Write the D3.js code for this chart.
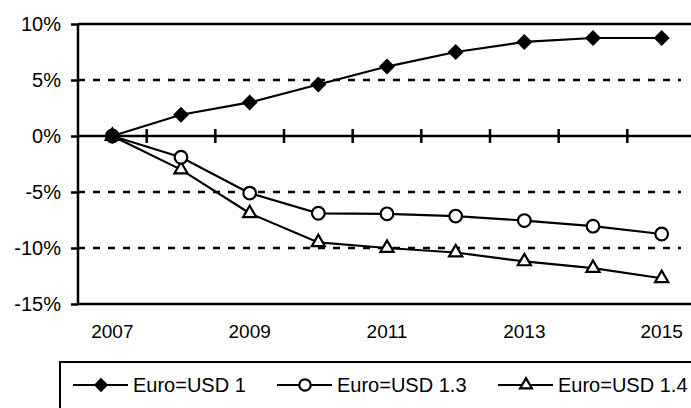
<!DOCTYPE html>
<html>
<head>
<meta charset="utf-8">
<script src="https://cdn.jsdelivr.net/npm/d3@7"></script>
<style>
  body { margin: 0; background: #fff; }
  svg { display: block; font-family: Arial, "Liberation Sans", sans-serif; }
</style>
</head>
<body>
<div id="chart-container"></div>
<script>
// data (percent change vs 2007)
const years = [2007, 2008, 2009, 2010, 2011, 2012, 2013, 2014, 2015];
const usd1 = [0, 1.9, 3.0, 4.6, 6.2, 7.5, 8.4, 8.75, 8.75];
const usd13 = [0, -1.9, -5.1, -6.9, -6.95, -7.15, -7.55, -8.05, -8.75];
const usd14 = [0, -3.0, -6.9, -9.5, -10.0, -10.4, -11.2, -11.8, -12.7];
const seriesNames = ["Euro=USD 1", "Euro=USD 1.3", "Euro=USD 1.4"];
const yTicks = [10, 5, 0, -5, -10, -15];
const xLabelYears = [2007, 2009, 2011, 2013, 2015];

const width = 691, height = 408;
const plotLeft = 78, plotTop = 24, plotBottom = 304, plotRight = 696;

const svg = d3.select("#chart-container").append("svg")
  .attr("width", width).attr("height", height);

const x = d3.scaleBand().domain(years).range([plotLeft, plotRight]);
const xc = d => x(d) + x.bandwidth() / 2;
const y = d3.scaleLinear().domain([-15, 10]).range([plotBottom, plotTop]);

// dashed gridlines
svg.append("g").selectAll("line")
  .data([5, -5, -10])
  .join("line")
  .attr("x1", plotLeft).attr("x2", 681)
  .attr("y1", d => y(d)).attr("y2", d => y(d))
  .attr("stroke", "#000").attr("stroke-width", 2.5)
  .attr("stroke-dasharray", "7,8");

// top and bottom solid lines
svg.append("g").selectAll("line")
  .data([10, -15])
  .join("line")
  .attr("x1", plotLeft).attr("x2", width)
  .attr("y1", d => y(d)).attr("y2", d => y(d))
  .attr("stroke", "#000").attr("stroke-width", 2.5);

// y axis
const yAxis = svg.append("g")
  .attr("transform", `translate(${plotLeft},0)`)
  .call(d3.axisLeft(y).tickValues(yTicks).tickFormat(d => d + "%").tickSize(7).tickPadding(10));
yAxis.select(".domain").attr("stroke-width", 2.5).attr("d", `M0,${plotTop}V${plotBottom}`);
yAxis.selectAll(".tick line").attr("stroke-width", 2.5);
yAxis.selectAll(".tick text")
  .style("font-size", "20px").style("font-family", "Arial, 'Liberation Sans', sans-serif")
  .attr("fill", "#000");

// zero line with category ticks
const zero = svg.append("g");
zero.append("line")
  .attr("x1", plotLeft).attr("x2", width)
  .attr("y1", y(0)).attr("y2", y(0))
  .attr("stroke", "#000").attr("stroke-width", 2.5);
zero.selectAll("line.tk")
  .data(years.slice(1))
  .join("line").attr("class", "tk")
  .attr("x1", d => x(d)).attr("x2", d => x(d))
  .attr("y1", y(0) - 7).attr("y2", y(0) + 7)
  .attr("stroke", "#000").attr("stroke-width", 2.5);

// x labels
svg.append("g").selectAll("text")
  .data(xLabelYears)
  .join("text")
  .attr("x", d => xc(d)).attr("y", 338)
  .attr("text-anchor", "middle")
  .style("font-size", "19px")
  .text(d => d);

// markers
const diamond = d3.symbol().type(d3.symbolSquare);
const circle = d3.symbol().type(d3.symbolCircle);
const tri = d3.symbol().type(d3.symbolTriangle);

const series = [
  { name: seriesNames[0], values: usd1, sym: "diamond" },
  { name: seriesNames[1], values: usd13, sym: "circle" },
  { name: seriesNames[2], values: usd14, sym: "triangle" }
];

function drawMarker(g, sym, scale) {
  const s = scale || 1;
  if (sym === "diamond") {
    g.append("path").attr("d", diamond.size(128 * s * s)())
      .attr("transform", "rotate(45)")
      .attr("fill", "#000");
  } else if (sym === "circle") {
    g.append("path").attr("d", circle.size(Math.PI * 40 * s * s)())
      .attr("fill", "#fff").attr("stroke", "#000").attr("stroke-width", 2.2);
  } else {
    g.append("path").attr("d", tri.size(75 * s * s)())
      .attr("fill", "#fff").attr("stroke", "#000").attr("stroke-width", 2.2);
  }
}

const line = d3.line().x((d, i) => xc(years[i])).y(d => y(d));

// draw lines (later series under earlier)
series.slice().reverse().forEach(s => {
  svg.append("path")
    .attr("d", line(s.values))
    .attr("fill", "none").attr("stroke", "#000").attr("stroke-width", 2.2);
});
series.slice().reverse().forEach(s => {
  s.values.forEach((v, i) => {
    const g = svg.append("g").attr("transform", `translate(${xc(years[i])},${y(v)})`);
    drawMarker(g, s.sym);
  });
});

// legend
svg.append("rect")
  .attr("x", 60).attr("y", 362)
  .attr("width", 700).attr("height", 100)
  .attr("fill", "none").attr("stroke", "#000").attr("stroke-width", 2);

const legendX = [73, 277, 498];
const ly = 385;
series.forEach((s, i) => {
  const g = svg.append("g").attr("transform", `translate(${legendX[i]},${ly})`);
  g.append("line").attr("x1", 0).attr("x2", 55).attr("y1", 0).attr("y2", 0)
    .attr("stroke", "#000").attr("stroke-width", 2.2);
  const m = g.append("g").attr("transform", "translate(28,0)");
  drawMarker(m, s.sym, 0.9);
  g.append("text")
    .attr("x", 60).attr("y", 7)
    .style("font-size", "20px")
    .text(s.name);
});
</script>
</body>
</html>
